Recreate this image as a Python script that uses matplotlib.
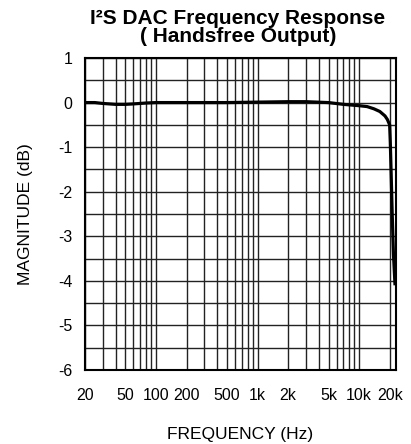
import numpy as np
import matplotlib
matplotlib.use("Agg")
import matplotlib.pyplot as plt
from matplotlib.ticker import FixedLocator, NullFormatter

plt.rcParams['font.family'] = ['Liberation Sans', 'DejaVu Sans']

# frequency response
freq = [20, 25, 30, 40, 50, 60, 80, 100, 200, 500, 1000, 2000, 3000, 5000,
        7000, 10000, 12000, 14000, 16000, 18000, 19000, 20000, 20300, 20700,
        21200, 21800, 22600]
mag = [0.0, 0.0, -0.02, -0.04, -0.04, -0.03, -0.01, 0.0, 0.0, 0.0, 0.01, 0.02,
       0.02, 0.0, -0.04, -0.07, -0.09, -0.14, -0.2, -0.3, -0.38, -0.5, -0.9,
       -1.6, -2.5, -3.4, -4.1]

xtick_vals = [20, 50, 100, 200, 500, 1000, 2000, 5000, 10000, 20000]
xtick_labels = ['20', '50', '100', '200', '500', '1k', '2k', '5k', '10k', '20k']
ytick_vals = [1, 0, -1, -2, -3, -4, -5, -6]

fig = plt.figure(figsize=(4.11, 4.44), dpi=100)
ax = fig.add_axes([85/411, 1 - 370/444, (396 - 85)/411, (370 - 58)/444])

ax.plot(freq, mag, color='black', lw=2.3, solid_capstyle='butt', zorder=3)

ax.set_xscale('log')
ax.set_xlim(20, 23100)
ax.set_ylim(-6, 1)

grid_x = [m * 10**d for d in range(1, 5) for m in range(1, 10)]
grid_x = [g for g in grid_x if 20 <= g <= 20000]
ax.xaxis.set_major_locator(FixedLocator(xtick_vals))
ax.set_xticklabels(xtick_labels)
ax.xaxis.set_minor_locator(FixedLocator(grid_x))
ax.xaxis.set_minor_formatter(NullFormatter())
ax.set_yticks(ytick_vals)
ax.set_yticklabels([str(v) for v in ytick_vals])
ax.yaxis.set_minor_locator(FixedLocator(np.arange(-6, 1.01, 0.5)))

ax.grid(True, which='both', color='#222222', lw=1.0)
ax.tick_params(which='both', length=0)
ax.tick_params(axis='x', pad=13, labelsize=11.5)
ax.tick_params(axis='y', pad=9, labelsize=11.5)
for s in ax.spines.values():
    s.set_linewidth(1.5)
    s.set_color('black')

ax.set_xlabel('FREQUENCY (Hz)', fontsize=12.5, labelpad=17)
ax.set_ylabel('MAGNITUDE (dB)', fontsize=12.5, labelpad=18)

fig.text(238/411, 1 - 9/444, 'I\u00b2S DAC Frequency Response\n( Handsfree Output)',
         ha='center', va='top', multialignment='center', linespacing=0.95,
         fontsize=15, fontweight='bold')

fig.savefig('out.png', dpi=100)
